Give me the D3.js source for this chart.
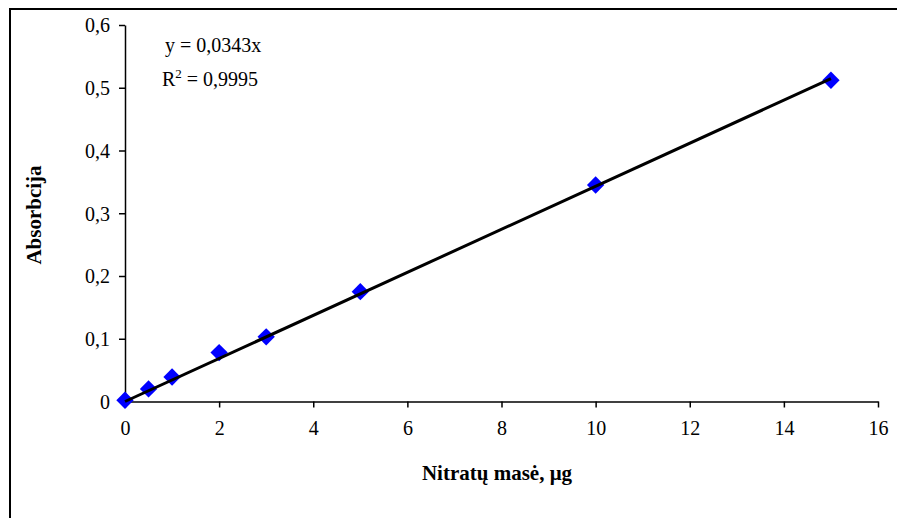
<!DOCTYPE html>
<html>
<head>
<meta charset="utf-8">
<script src="https://cdn.jsdelivr.net/npm/d3@7"></script>
<style>
  html, body { margin: 0; padding: 0; background: #fff; }
  svg { display: block; font-family: "Liberation Serif", "Times New Roman", serif; }
</style>
</head>
<body>
<svg id="chart" width="897" height="518"></svg>
<script>
// Calibration data: nitrate mass (µg) vs absorbance
const mass = [0, 0.5, 1, 2, 3, 5, 10, 15];
const absorbance = [0.002, 0.020, 0.039, 0.078, 0.103, 0.175, 0.345, 0.512];
const xTicks = [0, 2, 4, 6, 8, 10, 12, 14, 16];
const yTicks = [0, 0.1, 0.2, 0.3, 0.4, 0.5, 0.6];
const slope = 0.0343;
const fitRange = [0, 15];

const svg = d3.select("#chart");
const fmt = d => String(d).replace(".", ",");

// Outer chart frame
svg.append("rect")
  .attr("x", 10).attr("y", 9)
  .attr("width", 900).attr("height", 520)
  .attr("fill", "none").attr("stroke", "#000").attr("stroke-width", 2);

const x = d3.scaleLinear().domain([0, 16]).range([125, 878]);
const y = d3.scaleLinear().domain([0, 0.6]).range([401.5, 25]);

// Axes
const xAxis = svg.append("g")
  .attr("transform", `translate(0,${y(0)})`)
  .call(d3.axisBottom(x).tickValues(xTicks).tickSize(6).tickSizeOuter(0).tickFormat(fmt).tickPadding(13));
const yAxis = svg.append("g")
  .attr("transform", `translate(${x(0)},0)`)
  .call(d3.axisLeft(y).tickValues(yTicks).tickSize(6).tickSizeOuter(0).tickFormat(fmt).tickPadding(9));

[xAxis, yAxis].forEach(g => {
  g.attr("font-family", "Liberation Serif").attr("font-size", 20);
  g.selectAll("path, line").attr("stroke", "#000").attr("stroke-width", 1.5);
  g.selectAll("text").attr("fill", "#000");
});
yAxis.selectAll("text").attr("dy", "0.34em");

// Data markers (diamonds)
const diamond = d3.symbol().type(d3.symbolSquare).size(150);
svg.append("g").selectAll("path")
  .data(mass.map((m, i) => [m, absorbance[i]]))
  .join("path")
  .attr("d", diamond)
  .attr("transform", d => `translate(${x(d[0])},${y(d[1])}) rotate(45)`)
  .attr("fill", "#0000ff");

// Linear fit through origin
svg.append("line")
  .attr("x1", x(fitRange[0])).attr("y1", y(slope * fitRange[0]))
  .attr("x2", x(fitRange[1])).attr("y2", y(slope * fitRange[1]))
  .attr("stroke", "#000").attr("stroke-width", 3);

// Regression equation
const eq = svg.append("g").attr("font-size", 20).attr("fill", "#000");
eq.append("text").attr("x", 165).attr("y", 52).text("y = 0,0343x");
const r2 = eq.append("text").attr("x", 162).attr("y", 86);
r2.append("tspan").text("R");
r2.append("tspan").attr("dy", -8).attr("font-size", 13).text("2");
r2.append("tspan").attr("dy", 8).text(" = 0,9995");

// Axis titles
svg.append("text")
  .attr("x", 497).attr("y", 480)
  .attr("text-anchor", "middle")
  .attr("font-size", 21).attr("font-weight", "bold")
  .text("Nitratų masė, μg");
svg.append("text")
  .attr("transform", "translate(41,215) rotate(-90)")
  .attr("text-anchor", "middle")
  .attr("font-size", 21).attr("font-weight", "bold")
  .text("Absorbcija");
</script>
</body>
</html>
